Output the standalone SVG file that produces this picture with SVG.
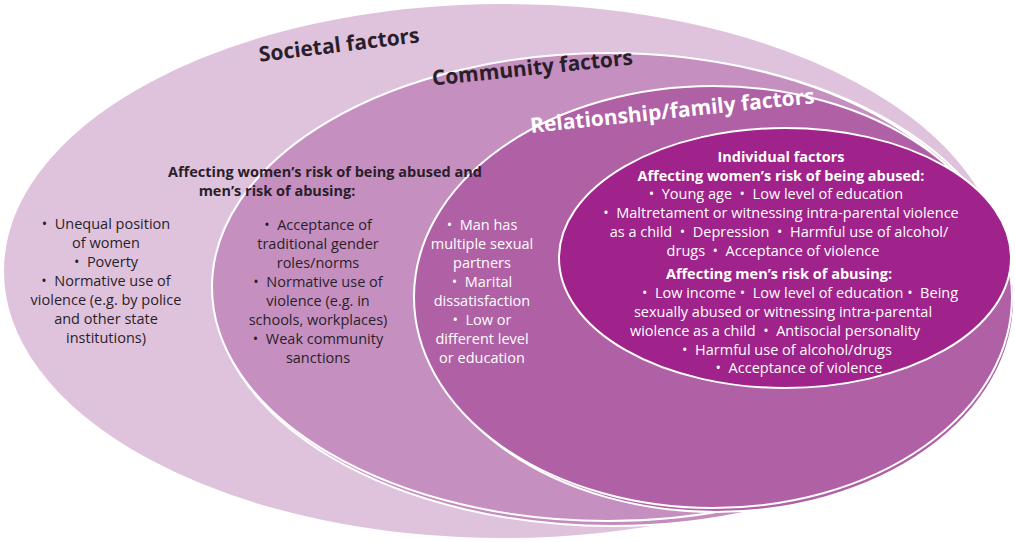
<svg xmlns="http://www.w3.org/2000/svg" width="1015" height="542" viewBox="0 0 1015 542">
<style>
.e{stroke:#fff;stroke-width:2}
text{font-family:"Open Sans","Liberation Sans",sans-serif;font-size:14.5px;text-anchor:middle;white-space:pre}
.d{fill:#2a1e2a}.w{fill:#fff}
.b{font-weight:bold}
.t{font-size:21px;font-weight:bold}
</style>
<rect width="1015" height="542" fill="#fff"/>
<g id="societal">
<ellipse class="e" cx="503" cy="271" rx="500" ry="268" fill="#dfc3dc"/>
<text class="t d" transform="translate(340,52) rotate(-7)">Societal factors</text>
<text class="d"><tspan x="106" y="229">•  Unequal position</tspan><tspan x="106" y="248">of women</tspan><tspan x="106" y="267">•  Poverty</tspan><tspan x="106" y="286">•  Normative use of</tspan><tspan x="106" y="305">violence (e.g. by police</tspan><tspan x="106" y="324">and other state</tspan><tspan x="106" y="343">institutions)</tspan></text>
</g>
<g id="community">
<ellipse class="e" cx="612" cy="290" rx="398" ry="236" fill="#c48bbe"/>
<ellipse class="e" cx="608" cy="287" rx="396" ry="234" fill="#c590c0"/>
<text class="t d" transform="translate(533,75) rotate(-6)">Community factors</text>
<text class="d"><tspan x="318" y="230">•  Acceptance of</tspan><tspan x="318" y="249">traditional gender</tspan><tspan x="318" y="268">roles/norms</tspan><tspan x="318" y="287">•  Normative use of</tspan><tspan x="318" y="306">violence (e.g. in</tspan><tspan x="318" y="325">schools, workplaces)</tspan><tspan x="318" y="344">•  Weak community</tspan><tspan x="318" y="363">sanctions</tspan></text>
</g>
<g id="relationship">
<ellipse class="e" cx="716" cy="300" rx="298" ry="212" fill="#b060a5"/>
<ellipse class="e" cx="713" cy="297" rx="299" ry="211" fill="#b060a5"/>
<text class="t w" transform="translate(673,118) rotate(-6)">Relationship/family factors</text>
<text class="w"><tspan x="482" y="230">•  Man has</tspan><tspan x="482" y="249">multiple sexual</tspan><tspan x="482" y="268">partners</tspan><tspan x="482" y="287">•  Marital</tspan><tspan x="482" y="306">dissatisfaction</tspan><tspan x="482" y="325">•  Low or</tspan><tspan x="482" y="344">different level</tspan><tspan x="482" y="363">or education</tspan></text>
</g>
<g id="shared-heading">
<text class="b d"><tspan x="325" y="177">Affecting women’s risk of being abused and</tspan><tspan x="277" y="196">men’s risk of abusing:</tspan></text>
</g>
<g id="individual">
<ellipse class="e" cx="785" cy="258" rx="226" ry="130" fill="#a0228b"/>
<text class="w"><tspan class="b" x="781" y="162">Individual factors</tspan><tspan class="b" x="781" y="181">Affecting women’s risk of being abused:</tspan><tspan x="776" y="199">•  Young age  •  Low level of education</tspan><tspan x="781" y="218">•  Maltretament or witnessing intra-parental violence</tspan><tspan x="779" y="237">as a child  •  Depression  •  Harmful use of alcohol/</tspan><tspan x="773" y="256">drugs  •  Acceptance of violence</tspan><tspan class="b" x="779" y="279">Affecting men’s risk of abusing:</tspan><tspan x="800" y="298">•  Low income •  Low level of education •  Being</tspan><tspan x="783" y="317">sexually abused or witnessing intra-parental</tspan><tspan x="775" y="336">wiolence as a child  •  Antisocial personality</tspan><tspan x="787" y="355">•  Harmful use of alcohol/drugs</tspan><tspan x="799" y="373">•  Acceptance of violence</tspan></text>
</g>
<g id="connectors"/>
</svg>
